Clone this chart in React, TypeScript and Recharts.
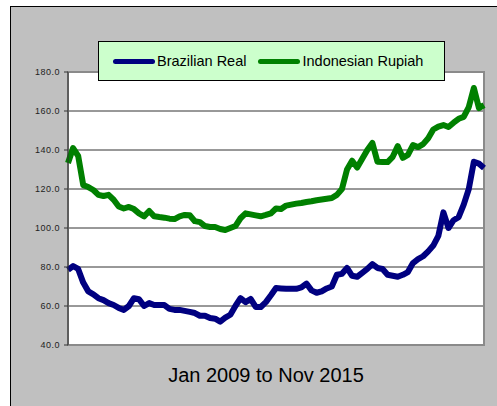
import React from "react";
import { LineChart, Line, XAxis, YAxis, CartesianGrid, Legend, ReferenceArea } from "recharts";

const months: number[] = Array.from({ length: 83 }, (_, i) => i);

const brazilianReal: number[] = [
  78.5, 80.5, 79, 72, 67.5, 66, 64, 63, 61.5, 60.5,
  59, 58, 60, 64, 63.5, 60, 61.5, 60.5, 60.5, 60.5,
  58.5, 58, 58, 57.5, 57, 56.4, 55, 55, 53.8, 53.5,
  52, 54, 55.5, 60, 64, 62, 63.6, 59.5, 59.5, 62,
  65.5, 69.2, 69, 68.8, 68.8, 68.8, 69.5, 71.5, 68, 66.8,
  67.5, 69, 70, 76, 76.5, 79.5, 75.5, 75, 77, 79,
  81.5, 79.5, 79, 76, 75.5, 75, 76, 77.4, 82, 84,
  85.5, 88, 91, 96, 108, 100, 104, 105.6, 112, 120,
  134, 133, 130.8,
];

const indonesianRupiah: number[] = [
  133.3, 141, 137, 122, 121, 119.5, 117, 116.4, 117, 114.5,
  111, 110, 110.8, 109.7, 107.5, 106, 108.7, 106, 105.6, 105.3,
  104.8, 104.6, 106, 106.7, 106.5, 103.5, 103, 101, 100.5, 100.5,
  99.5, 99, 100, 101, 105, 107.5, 107, 106.5, 106, 106.7,
  107.5, 110, 109.7, 111.5, 112, 112.5, 112.8, 113.3, 113.7, 114.2,
  114.6, 115, 115.4, 117, 120, 130, 134.5, 131, 135.5, 140,
  143.6, 134, 133.8, 133.8, 136.5, 142, 136, 137.5, 142.5, 141.5,
  143, 146, 150.5, 152, 152.8, 151.8, 154, 156, 157, 162,
  171.8, 161.5, 163,
];

const yTicks: number[] = [40, 60, 80, 100, 120, 140, 160, 180];
const seriesNames: string[] = ["Brazilian Real", "Indonesian Rupiah"];
const seriesColors: string[] = ["#000080", "#008000"];
const titleText = "Jan 2009 to Nov 2015";

const data = months.map((m, i) => ({
  m,
  real: brazilianReal[i],
  rupiah: indonesianRupiah[i],
}));

const FONT = "'Liberation Sans', Arial, sans-serif";

const LegendBox = (props: any) => {
  const payload = props.payload || [];
  return (
    <div
      style={{
        width: 345,
        height: 38,
        background: "#CCFFCC",
        border: "1px solid #000",
        display: "flex",
        alignItems: "center",
        fontFamily: FONT,
        fontSize: 14.5,
        color: "#000",
        boxSizing: "content-box",
      }}
    >
      {payload.map((p: any, i: number) => (
        <div key={i} style={{ display: "flex", alignItems: "center", marginLeft: i === 0 ? 14 : 12 }}>
          <div style={{ width: 42, height: 5, background: p.color, borderRadius: 3, marginRight: 2 }} />
          <span>{p.value}</span>
        </div>
      ))}
    </div>
  );
};

export default function App() {
  return (
    <div style={{ position: "fixed", left: 0, top: 0, width: 497, height: 406, overflow: "hidden", background: "#fff" }}>
      <div
        style={{
          position: "absolute",
          left: 10,
          top: 6,
          width: 520,
          height: 420,
          background: "#C0C0C0",
          borderLeft: "1px solid #000",
          borderTop: "1px solid #000",
        }}
      />
      <div style={{ position: "absolute", left: 0, top: 0 }}>
        <LineChart
          width={497}
          height={406}
          data={data}
          margin={{ top: 72, right: 13, bottom: 0, left: 8 }}
        >
          <CartesianGrid vertical={false} stroke="#333" fill="#fff" />
          <ReferenceArea x1={0} x2={82} y1={40} y2={180} fill="none" stroke="#8a8a8a" strokeWidth={2} ifOverflow="visible" />
          <XAxis
            dataKey="m"
            type="number"
            domain={[0, 82]}
            height={61}
            axisLine={false}
            tick={false}
            tickLine={false}
            label={{
              value: titleText,
              position: "insideTop",
              offset: 23,
              dx: -10,
              style: { fontFamily: FONT, fontSize: 20, fill: "#000" },
            }}
          />
          <YAxis
            width={60}
            domain={[40, 180]}
            ticks={yTicks}
            interval={0}
            tickFormatter={(v: number) => v.toFixed(1)}
            axisLine={{ stroke: "#333" }}
            tickLine={{ stroke: "#333" }}
            tickSize={4}
            tickMargin={4}
            tick={{ fontFamily: FONT, fontSize: 9, fill: "#222", letterSpacing: 0.5 }}
          />
          <Legend
            layout="horizontal"
            verticalAlign="middle"
            align="center"
            wrapperStyle={{ left: 98, top: 41, width: 347, height: 40 }}
            content={LegendBox}
          />
          <Line
            type="linear"
            dataKey="real"
            name={seriesNames[0]}
            stroke={seriesColors[0]}
            strokeWidth={6}
            dot={false}
            strokeLinejoin="round"
            isAnimationActive={false}
          />
          <Line
            type="linear"
            dataKey="rupiah"
            name={seriesNames[1]}
            stroke={seriesColors[1]}
            strokeWidth={6}
            dot={false}
            strokeLinejoin="round"
            isAnimationActive={false}
          />
        </LineChart>
      </div>
    </div>
  );
}
